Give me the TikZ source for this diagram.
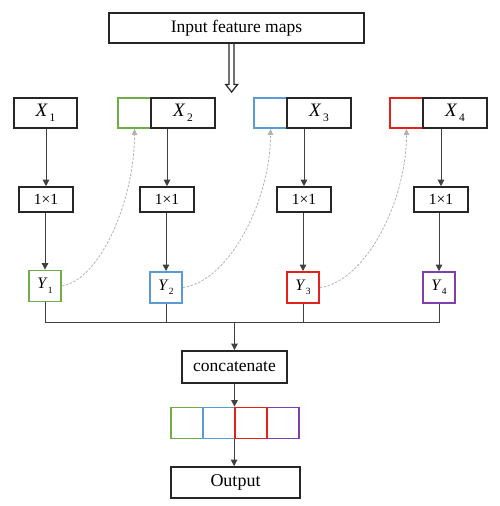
\documentclass[tikz,border=0pt]{standalone}
\usepackage{fontspec}
\setmainfont{Liberation Serif}
\usetikzlibrary{arrows.meta}
\definecolor{cgreen}{HTML}{70AD47}
\definecolor{cblue}{HTML}{5B9BD5}
\definecolor{cred}{HTML}{E3221C}
\definecolor{cpurple}{HTML}{7E3FB0}
\tikzset{
  bbox/.style={draw=black!85, line width=1.8pt, inner sep=0pt, fill=white},
  cbox/.style={draw=#1, line width=1.8pt, inner sep=0pt, fill=white},
  conn/.style={draw=black!75, line width=1pt, -{Triangle[length=6.5pt,width=6.5pt]}},
  plain/.style={draw=black!75, line width=1pt},
  skip/.style={draw=black!30, line width=0.8pt, dash pattern=on 2.5pt off 1.5pt, -{Triangle[length=6pt,width=5.5pt]}},
}
\newcommand{\Xl}[1]{\fontsize{19}{19}\selectfont\textit{X}\hspace{2pt}\raisebox{-4.5pt}{\fontsize{11.5}{11.5}\selectfont #1}}
\newcommand{\Yl}[1]{\fontsize{16}{16}\selectfont\textit{Y}\raisebox{-4.5pt}{\fontsize{9.5}{9.5}\selectfont #1}}
\begin{document}
\begin{tikzpicture}[x=1pt,y=-1pt]
\useasboundingbox (0,0) rectangle (499,506);
% input
\node[bbox, minimum width=255pt, minimum height=30pt, font=\fontsize{17.5}{17.5}\selectfont] (in) at (236.5,28) {Input feature maps};
% hollow double arrow
\draw[line width=1.2pt, draw=black!85, fill=white] (229,44) -- (229,84.5) -- (225.7,84.5) -- (231.6,92) -- (237.6,84.5) -- (234,84.5) -- (234,44);
% X row
\node[bbox, minimum width=63pt, minimum height=30pt] (X1) at (45.5,113) {\Xl{1}};
\node[cbox=cgreen, minimum width=33pt, minimum height=30pt] (g2) at (134.5,113) {};
\node[bbox, minimum width=64pt, minimum height=30pt] (X2) at (183,113) {\Xl{2}};
\node[cbox=cblue, minimum width=33pt, minimum height=30pt] (b3) at (270.5,113) {};
\node[bbox, minimum width=64pt, minimum height=30pt] (X3) at (319,113) {\Xl{3}};
\node[cbox=cred, minimum width=33pt, minimum height=30pt] (r4) at (406.5,113) {};
\node[bbox, minimum width=64pt, minimum height=30pt] (X4) at (455,113) {\Xl{4}};
% 1x1 row
\foreach \n/\x in {1/46,2/167,3/304,4/441}{
  \node[bbox, line width=1.6pt, minimum width=54pt, minimum height=25pt, font=\fontsize{15.5}{15.5}\selectfont] (c\n) at (\x,199.5) {1\texttimes1};
}
% Y row
\node[cbox=cgreen, minimum width=32pt, minimum height=31pt] (Y1) at (45,286) {\Yl{1}};
\node[cbox=cblue, minimum width=32pt, minimum height=31pt] (Y2) at (166,287.5) {\Yl{2}};
\node[cbox=cred, minimum width=32pt, minimum height=31pt] (Y3) at (303,287.5) {\Yl{3}};
\node[cbox=cpurple, minimum width=32pt, minimum height=31pt] (Y4) at (439,287.5) {\Yl{4}};
% concatenate
\node[bbox, minimum width=105pt, minimum height=32pt, font=\fontsize{17.5}{17.5}\selectfont] (cat) at (234.5,367) {concatenate};
% squares
\node[cbox=cgreen, minimum width=32pt, minimum height=31pt] (s1) at (187,423) {};
\node[cbox=cblue, minimum width=32pt, minimum height=31pt] (s2) at (219,423) {};
\node[cbox=cpurple, minimum width=32pt, minimum height=31pt] (s4) at (283,423) {};
\node[cbox=cred, minimum width=32pt, minimum height=31pt] (s3) at (251,423) {};
% output
\node[bbox, minimum width=129pt, minimum height=31pt, font=\fontsize{18}{18}\selectfont] (out) at (235.5,482.5) {Output};
% column arrows
\draw[conn] (X1.south -| c1) -- (c1.north);
\draw[conn] (X2.south -| c2) -- (c2.north);
\draw[conn] (X3.south -| c3) -- (c3.north);
\draw[conn] (X4.south -| c4) -- (c4.north);
\draw[conn] (c1.south -| Y1) -- (Y1.north);
\draw[conn] (c2.south -| Y2) -- (Y2.north);
\draw[conn] (c3.south -| Y3) -- (Y3.north);
\draw[conn] (c4.south -| Y4) -- (Y4.north);
% dashed skips
\draw[skip] (Y1.east) .. controls +(38,-6) and +(0,72) .. (g2.south);
\draw[skip] (Y2.east) .. controls +(46,-6) and +(0,72) .. (b3.south);
\draw[skip] (Y3.east) .. controls +(46,-6) and +(0,72) .. (r4.south);
% bus
\coordinate (bus) at (234.5,322.7);
\draw[plain] (Y1.south) |- (bus) -| (Y4.south);
\draw[plain] (Y2.south) -- (Y2.south |- bus);
\draw[plain] (Y3.south) -- (Y3.south |- bus);
\draw[conn] (bus) -- (cat.north);
\draw[conn] (cat.south) -- (cat.south |- s2.north);
\draw[conn] (s3.south west) -- (s3.south west |- out.north);
\end{tikzpicture}
\end{document}
